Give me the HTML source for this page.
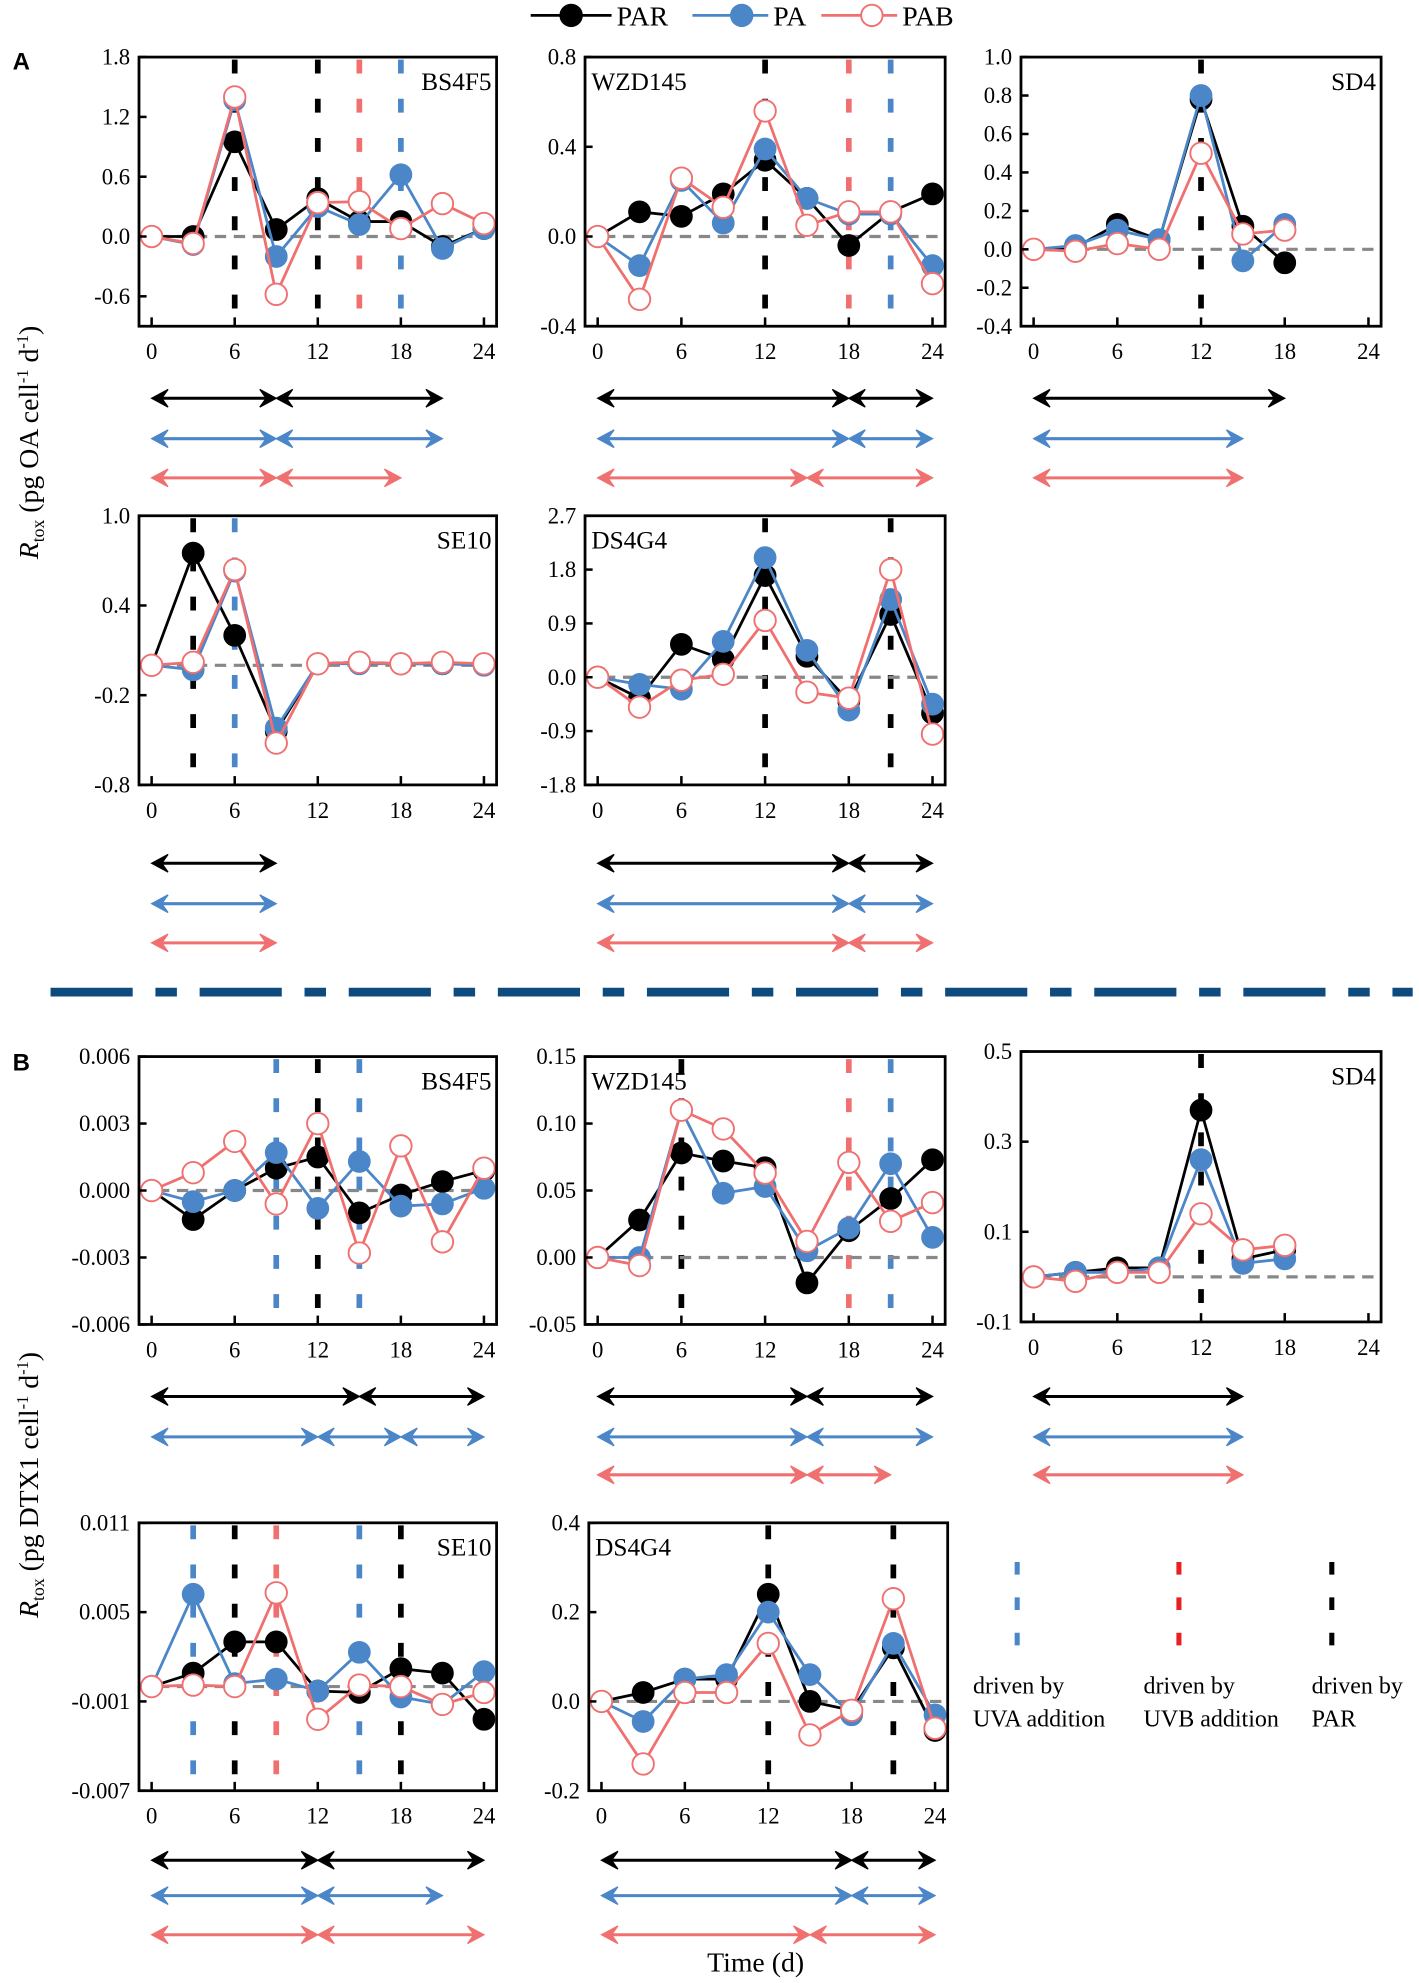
<!DOCTYPE html>
<html><head><meta charset="utf-8"><style>
html,body{margin:0;padding:0;background:#fff}
svg{display:block}
text{font-family:"Liberation Serif",serif}
text.sans{font-family:"Liberation Sans",sans-serif;font-weight:bold}
</style></head><body>
<svg id="fig" width="1419" height="1983" viewBox="0 0 1123 1569" xmlns="http://www.w3.org/2000/svg"></svg>
<script>
const xCats=[0,3,6,9,12,15,18,21,24];
// Panel A
const aBS_PAR=[0,0,0.95,0.07,0.38,0.15,0.15,-0.1,0.08];
const aBS_PA=[0,-0.08,1.37,-0.2,0.3,0.12,0.62,-0.12,0.08];
const aBS_PAB=[0,-0.07,1.4,-0.58,0.34,0.35,0.08,0.33,0.13];
const aWZ_PAR=[0,0.11,0.09,0.19,0.34,0.17,-0.04,0.11,0.19];
const aWZ_PA=[0,-0.13,0.25,0.06,0.39,0.17,0.1,0.1,-0.13];
const aWZ_PAB=[0,-0.28,0.26,0.13,0.56,0.05,0.11,0.11,-0.21];
const aSD_PAR=[0,0.01,0.13,0.05,0.78,0.12,-0.07];
const aSD_PA=[0,0.02,0.1,0.05,0.8,-0.06,0.13];
const aSD_PAB=[0,-0.01,0.03,0.0,0.5,0.08,0.1];
const aSE_PAR=[0,0.75,0.2,-0.44,0.01,0.02,0.01,0.01,0.01];
const aSE_PA=[0,-0.03,0.63,-0.42,0.01,0.01,0.01,0.01,0.0];
const aSE_PAB=[0,0.02,0.64,-0.52,0.01,0.02,0.01,0.02,0.01];
const aDS_PAR=[0,-0.35,0.55,0.3,1.7,0.35,-0.4,1.05,-0.6];
const aDS_PA=[0,-0.12,-0.2,0.6,2.0,0.45,-0.55,1.3,-0.45];
const aDS_PAB=[0,-0.5,-0.05,0.05,0.95,-0.25,-0.35,1.8,-0.95];
// Panel B
const bBS_PAR=[0,-0.0013,0,0.001,0.0015,-0.001,-0.0002,0.0004,0.0009];
const bBS_PA=[0,-0.0005,0,0.0017,-0.0008,0.0013,-0.0007,-0.0006,0.0001];
const bBS_PAB=[0,0.0008,0.0022,-0.0006,0.003,-0.0028,0.002,-0.0023,0.001];
const bWZ_PAR=[0,0.028,0.078,0.072,0.067,-0.019,0.02,0.044,0.073];
const bWZ_PA=[0,0.0,0.11,0.048,0.053,0.005,0.022,0.07,0.015];
const bWZ_PAB=[0,-0.006,0.11,0.096,0.063,0.012,0.071,0.027,0.041];
const bSD_PAR=[0,0.01,0.02,0.02,0.37,0.04,0.06];
const bSD_PA=[0,0.01,0.01,0.02,0.26,0.03,0.04];
const bSD_PAB=[0,-0.01,0.01,0.01,0.14,0.06,0.07];
const bSE_PAR=[0,0.0009,0.003,0.003,-0.0003,-0.0004,0.0012,0.0009,-0.0022];
const bSE_PA=[0,0.0062,0.0002,0.0005,-0.0003,0.0023,-0.0007,-0.0012,0.001];
const bSE_PAB=[0,0.0001,0,0.0063,-0.0022,0.0001,0,-0.0012,-0.0004];
const bDS_PAR=[0,0.02,0.05,0.05,0.24,0.0,-0.02,0.12,-0.065];
const bDS_PA=[0,-0.045,0.05,0.06,0.2,0.06,-0.03,0.13,-0.03];
const bDS_PAB=[0,-0.14,0.02,0.02,0.13,-0.075,-0.02,0.23,-0.06];
const xTickLabels=["0","6","12","18","24"];

const K='#000',B='#4a86c8',R='#f07070';
const NS='http://www.w3.org/2000/svg';
const svg=document.getElementById('fig');
function mk(tag,attrs,parent){const e=document.createElementNS(NS,tag);for(const k in attrs)e.setAttribute(k,attrs[k]);(parent||svg).appendChild(e);return e;}

const panels=[
 {name:'BS4F5',nameRight:true,x0:110,x1:393,y0:45,y1:258,ymin:-0.9,ymax:1.8,ticks:[1.8,1.2,0.6,0,-0.6],lab:['1.8','1.2','0.6','0.0','-0.6'],d:[aBS_PAR,aBS_PA,aBS_PAB],vl:[[6,K],[12,K],[15,R],[18,B]],ar:[[[0,9],[9,21]],[[0,9],[9,21]],[[0,9],[9,18]]],ary:[315,347,378]},
 {name:'WZD145',x0:463,x1:748,y0:45,y1:258,ymin:-0.4,ymax:0.8,ticks:[0.8,0.4,0,-0.4],lab:['0.8','0.4','0.0','-0.4'],d:[aWZ_PAR,aWZ_PA,aWZ_PAB],vl:[[12,K],[18,R],[21,B]],ar:[[[0,18],[18,24]],[[0,18],[18,24]],[[0,15],[15,24]]],ary:[315,347,378]},
 {name:'SD4',nameRight:true,x0:808,x1:1093,y0:45,y1:258,ymin:-0.4,ymax:1.0,ticks:[1.0,0.8,0.6,0.4,0.2,0,-0.2,-0.4],lab:['1.0','0.8','0.6','0.4','0.2','0.0','-0.2','-0.4'],d:[aSD_PAR,aSD_PA,aSD_PAB],vl:[[12,K]],ar:[[[0,18]],[[0,15]],[[0,15]]],ary:[315,347,378]},
 {name:'SE10',nameRight:true,x0:110,x1:393,y0:408,y1:621,ymin:-0.8,ymax:1.0,ticks:[1.0,0.4,-0.2,-0.8],lab:['1.0','0.4','-0.2','-0.8'],d:[aSE_PAR,aSE_PA,aSE_PAB],vl:[[3,K],[6,B]],ar:[[[0,9]],[[0,9]],[[0,9]]],ary:[683,715,746]},
 {name:'DS4G4',x0:463,x1:748,y0:408,y1:621,ymin:-1.8,ymax:2.7,ticks:[2.7,1.8,0.9,0,-0.9,-1.8],lab:['2.7','1.8','0.9','0.0','-0.9','-1.8'],d:[aDS_PAR,aDS_PA,aDS_PAB],vl:[[12,K],[21,K]],ar:[[[0,18],[18,24]],[[0,18],[18,24]],[[0,18],[18,24]]],ary:[683,715,746]},
 {name:'BS4F5',nameRight:true,x0:110,x1:393,y0:836,y1:1048,ymin:-0.006,ymax:0.006,ticks:[0.006,0.003,0,-0.003,-0.006],lab:['0.006','0.003','0.000','-0.003','-0.006'],d:[bBS_PAR,bBS_PA,bBS_PAB],vl:[[9,B],[12,K],[15,B]],ar:[[[0,15],[15,24]],[[0,12],[12,18],[18,24]],[]],ary:[1105,1137,1167]},
 {name:'WZD145',x0:463,x1:748,y0:836,y1:1048,ymin:-0.05,ymax:0.15,ticks:[0.15,0.1,0.05,0,-0.05],lab:['0.15','0.10','0.05','0.00','-0.05'],d:[bWZ_PAR,bWZ_PA,bWZ_PAB],vl:[[6,K],[18,R],[21,B]],ar:[[[0,15],[15,24]],[[0,15],[15,24]],[[0,15],[15,21]]],ary:[1105,1137,1167]},
 {name:'SD4',nameRight:true,x0:808,x1:1093,y0:832,y1:1046,ymin:-0.1,ymax:0.5,ticks:[0.5,0.3,0.1,-0.1],lab:['0.5','0.3','0.1','-0.1'],d:[bSD_PAR,bSD_PA,bSD_PAB],vl:[[12,K]],ar:[[[0,15]],[[0,15]],[[0,15]]],ary:[1105,1137,1167]},
 {name:'SE10',nameRight:true,x0:110,x1:393,y0:1205,y1:1417,ymin:-0.007,ymax:0.011,ticks:[0.011,0.005,-0.001,-0.007],lab:['0.011','0.005','-0.001','-0.007'],d:[bSE_PAR,bSE_PA,bSE_PAB],vl:[[3,B],[6,K],[9,R],[15,B],[18,K]],ar:[[[0,12],[12,24]],[[0,12],[12,21]],[[0,12],[12,24]]],ary:[1472,1500,1531]},
 {name:'DS4G4',x0:466,x1:750,y0:1205,y1:1417,ymin:-0.2,ymax:0.4,ticks:[0.4,0.2,0,-0.2],lab:['0.4','0.2','0.0','-0.2'],d:[bDS_PAR,bDS_PA,bDS_PAB],vl:[[12,K],[21,K]],ar:[[[0,18],[18,24]],[[0,18],[18,24]],[[0,15],[15,24]]],ary:[1472,1500,1531]},
];
const sCols=[K,B,R],sNames=['par','pa','pab'];

function arrow(g,xa,xb,y,c){
  mk('line',{x1:xa+4,y1:y,x2:xb-4,y2:y,stroke:c,'stroke-width':2.4},g);
  mk('path',{d:`M${xa},${y} L${xa+13},${y-7} L${xa+8},${y} L${xa+13},${y+7} Z`,fill:c,stroke:c,'stroke-width':1},g);
  mk('path',{d:`M${xb},${y} L${xb-13},${y-7} L${xb-8},${y} L${xb-13},${y+7} Z`,fill:c,stroke:c,'stroke-width':1},g);
}

panels.forEach((p,pi)=>{
  const g=mk('g',{});
  
  
  const px=p.x0+10,pw=(p.x1-10)-px;
  const X=v=>px+v/24*pw;
  const Y=v=>p.y1-(v-p.ymin)/(p.ymax-p.ymin)*(p.y1-p.y0);
  p.vl.forEach(v=>{const l=mk('line',{x1:X(v[0]),x2:X(v[0]),y1:p.y0+2,y2:p.y1,stroke:v[1],'stroke-width':4.5,'stroke-dasharray':'11 20'},g);
    
    });
  const z=mk('line',{x1:p.x0,x2:p.x1,y1:Y(0),y2:Y(0),stroke:'#888','stroke-width':2.5,'stroke-dasharray':'9 6'},g);
  
  
  [0,1,2].forEach(si=>{
    const arr=p.d[si],c=sCols[si];
    const pts=arr.map((v,i)=>X(xCats[i])+','+Y(v)).join(' ');
    const pl=mk('polyline',{points:pts,fill:'none',stroke:c,'stroke-width':2.2},g);
    
    
    arr.forEach((v,i)=>{
      const m=mk('circle',{cx:X(xCats[i]),cy:Y(v),r:8.5,fill:si==2?'#fff':c,stroke:c,'stroke-width':si==2?1.5:1},g);
      
      
    });
  });
  const fr=mk('rect',{x:p.x0,y:p.y0,width:p.x1-p.x0,height:p.y1-p.y0,fill:'none',stroke:'#000','stroke-width':2.2},g);
  
  
  p.ticks.forEach((t,i)=>{
    mk('line',{x1:p.x0,x2:p.x0+6,y1:Y(t),y2:Y(t),stroke:'#000','stroke-width':2},g);
    const tx=mk('text',{x:p.x0-7,y:Y(t)+6,'text-anchor':'end','font-size':18},g);
    tx.textContent=p.lab[i];
    
    
  });
  xTickLabels.forEach((s,i)=>{
    const xv=i*6;
    mk('line',{x1:X(xv),x2:X(xv),y1:p.y1,y2:p.y1-7,stroke:'#000','stroke-width':2},g);
    const tx=mk('text',{x:X(xv),y:p.y1+26,'text-anchor':'middle','font-size':18},g);
    tx.textContent=s;
    
    
  });
  const nm=mk('text',{x:p.nameRight?p.x1-4:p.x0+5,y:p.y0+26,'text-anchor':p.nameRight?'end':'start','font-size':20},g);
  nm.textContent=p.name;
  
  
  p.ar.forEach((segs,si)=>segs.forEach(s=>arrow(g,X(s[0]),X(s[1]),p.ary[si],sCols[si])));
});

const dv=mk('line',{x1:40,x2:1118,y1:785,y2:785,stroke:'#0d4a7e','stroke-width':7,'stroke-dasharray':'65 18 17 18'});



function txt(s,x,y,sz,attrs,name){const t=mk('text',Object.assign({x:x,y:y,'font-size':sz},attrs||{}));t.textContent=s;return t;}
txt('A',10,55,19,{'class':'sans'},'panel-label-a');
txt('B',10,847,19,{'class':'sans'},'panel-label-b');
txt('Time (d)',598,1560,22,{'text-anchor':'middle'},'x-axis-title');

function ytitle(cy,unit,name){
  const t=mk('text',{x:0,y:0,'font-size':22,transform:`translate(30,${cy}) rotate(-90)`,'text-anchor':'middle'});
  
  
  t.innerHTML=`<tspan font-style="italic">R</tspan><tspan font-size="14" dy="5">tox</tspan><tspan dy="-5"> (pg ${unit} cell</tspan><tspan font-size="13" dy="-8">-1</tspan><tspan dy="8"> d</tspan><tspan font-size="13" dy="-8">-1</tspan><tspan dy="8">)</tspan>`;
}
ytitle(350,'OA','y-axis-title-a');
ytitle(1175,'DTX1','y-axis-title-b');

const lg=[[420,452,488,'PAR',K,K],[548,587,612,'PA',B,B],[650,690,714,'PAB',R,'#fff']];
lg.forEach((l,i)=>{
  const g=mk('g',{});
  
  
  mk('line',{x1:l[0],x2:l[2]-4,y1:12,y2:12,stroke:l[4],'stroke-width':2.2},g);
  mk('circle',{cx:l[1],cy:12,r:8.5,fill:l[5],stroke:l[4],'stroke-width':1.5},g);
  const t=mk('text',{x:l[2],y:20,'font-size':22},g);t.textContent=l[3];
});

[[805,B,'UVA addition',770],[933,'#e82020','UVB addition',905],[1054,K,'PAR',1038]].forEach((d,i)=>{
  const g=mk('g',{});
  
  
  mk('line',{x1:d[0],x2:d[0],y1:1236,y2:1314,stroke:d[1],'stroke-width':4,'stroke-dasharray':'10 18'},g);
  const t1=mk('text',{x:d[3],y:1340,'font-size':19},g);t1.textContent='driven by';
  const t2=mk('text',{x:d[3],y:1366,'font-size':19},g);t2.textContent=d[2];
});
</script>
</body></html>
